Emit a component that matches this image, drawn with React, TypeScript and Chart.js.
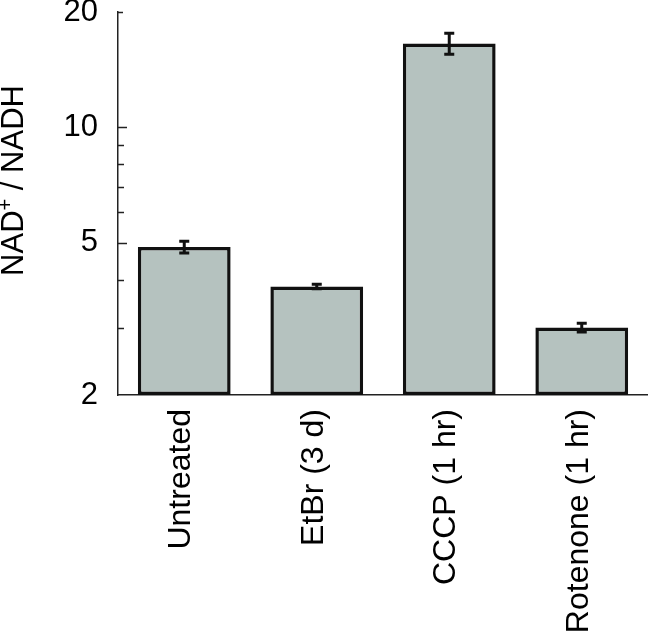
import React, { useEffect, useRef } from "react";
import { Chart, registerables } from "chart.js";

Chart.register(...registerables);

const categories = ["Untreated", "EtBr (3 d)", "CCCP (1 hr)", "Rotenone (1 hr)"];
const ratioValues = [4.87, 3.84, 16.56, 3.0];
const ratioErrors = [0.17, 0.05, 1.05, 0.08];
const majorTicks = [2, 5, 10, 20];
const minorTicks = [3, 4, 6, 7, 8, 9];

const FONT = "'Liberation Sans', Arial, Helvetica, sans-serif";

const errorBarPlugin = {
  id: "errorBars",
  afterDatasetsDraw(chart: any) {
    const ctx = chart.ctx;
    const meta = chart.getDatasetMeta(0);
    const ys = chart.scales.y;
    ctx.save();
    ctx.strokeStyle = "#111";
    ctx.lineWidth = 3;
    meta.data.forEach((el: any, i: number) => {
      const v = ratioValues[i];
      const e = ratioErrors[i];
      const x = el.x;
      const yHi = ys.getPixelForValue(v + e);
      const yLo = ys.getPixelForValue(v - e);
      const cap = 5;
      ctx.beginPath();
      ctx.moveTo(x, yHi);
      ctx.lineTo(x, yLo);
      ctx.moveTo(x - cap, yHi);
      ctx.lineTo(x + cap, yHi);
      ctx.moveTo(x - cap, yLo);
      ctx.lineTo(x + cap, yLo);
      ctx.stroke();
    });
    ctx.restore();
  },
};

const axisDecorPlugin = {
  id: "axisDecor",
  afterDraw(chart: any) {
    const ctx = chart.ctx;
    const ys = chart.scales.y;
    const area = chart.chartArea;
    ctx.save();
    ctx.strokeStyle = "#222";
    ctx.lineWidth = 1.5;
    const drawTick = (v: number, len: number) => {
      const y = Math.round(ys.getPixelForValue(v)) + 0.5;
      ctx.beginPath();
      ctx.moveTo(area.left, y);
      ctx.lineTo(area.left + len, y);
      ctx.stroke();
    };
    majorTicks.forEach((v) => {
      if (v === 2) return;
      drawTick(v, v === 20 ? 5 : 9);
    });
    minorTicks.forEach((v) => drawTick(v, 6));

    // y axis title with superscript
    const cx = 14;
    const cy = (area.top + area.bottom) / 2 - 23;
    ctx.translate(cx, cy);
    ctx.rotate(-Math.PI / 2);
    ctx.fillStyle = "#000";
    ctx.textBaseline = "middle";
    ctx.textAlign = "left";
    const big = "31px " + FONT;
    const small = "20px " + FONT;
    ctx.font = big;
    const w1 = ctx.measureText("NAD").width;
    const w3 = ctx.measureText(" / NADH").width;
    ctx.font = small;
    const w2 = ctx.measureText("+").width;
    const total = w1 + w2 + w3;
    let x = -total / 2;
    ctx.font = big;
    ctx.fillText("NAD", x, 0);
    x += w1;
    ctx.font = small;
    ctx.fillText("+", x, -8);
    x += w2;
    ctx.font = big;
    ctx.fillText(" / NADH", x, 0);
    ctx.restore();
  },
};

export default function App() {
  const ref = useRef<HTMLCanvasElement | null>(null);

  useEffect(() => {
    if (!ref.current) return;
    const chart = new Chart(ref.current, {
      type: "bar",
      data: {
        labels: categories,
        datasets: [
          {
            data: ratioValues,
            backgroundColor: "#b5c2bf",
            borderColor: "#111",
            borderWidth: 3.5,
            borderSkipped: false,
            categoryPercentage: 1,
            barPercentage: 0.7,
          },
        ],
      },
      options: {
        responsive: false,
        animation: false,
        events: [],
        layout: {
          autoPadding: false,
          padding: { top: 12, right: 0, left: 0, bottom: 0 },
        },
        plugins: {
          legend: { display: false },
          tooltip: { enabled: false },
          title: { display: false },
        },
        scales: {
          x: {
            grid: { display: false, drawTicks: false },
            border: { display: true, color: "#222", width: 1.5 },
            ticks: {
              minRotation: 90,
              maxRotation: 90,
              padding: 14,
              labelOffset: -3,
              color: "#000",
              font: { family: FONT, size: 32 },
              autoSkip: false,
            },
            afterFit(scale: any) {
              scale.height = 245;
              scale.paddingLeft = 0;
              scale.paddingRight = 0;
            },
          },
          y: {
            type: "logarithmic",
            min: 2,
            max: 20,
            grid: { display: false, drawTicks: false },
            border: { display: true, color: "#222", width: 1.5 },
            afterBuildTicks(scale: any) {
              scale.ticks = [...majorTicks, ...minorTicks]
                .sort((a, b) => a - b)
                .map((v) => ({ value: v }));
            },
            ticks: {
              autoSkip: false,
              padding: 20,
              color: "#000",
              font: { family: FONT, size: 31, lineHeight: 0.8 },
              callback: (v: any) => (majorTicks.includes(Number(v)) ? String(v) : ""),
            },
            afterFit(scale: any) {
              scale.width = 118;
              scale.paddingTop = 12;
              scale.paddingBottom = 0;
            },
          },
        },
      },
      plugins: [errorBarPlugin, axisDecorPlugin],
    });
    return () => chart.destroy();
  }, []);

  return (
    <div style={{ position: "fixed", left: 0, top: 0, width: 648, height: 640, background: "#fff" }}>
      <canvas ref={ref} width={648} height={640} style={{ display: "block", width: 648, height: 640 }} />
    </div>
  );
}
